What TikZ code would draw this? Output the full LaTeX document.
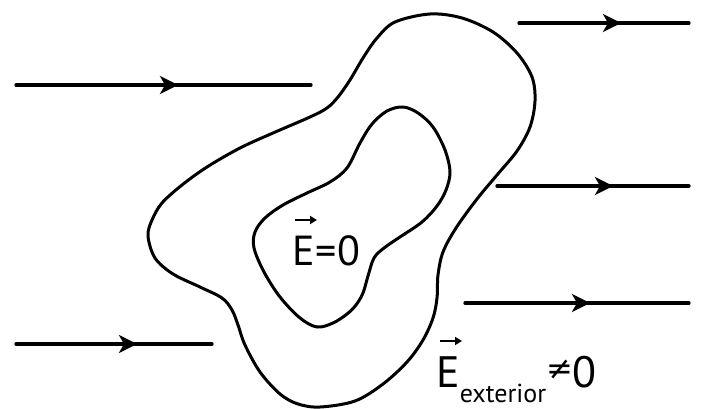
\documentclass[tikz,border=0pt]{standalone}
\usepackage{fontspec}
\setmainfont{PT Sans}
\newfontfamily\symfnt{DejaVu Sans}
\usetikzlibrary{arrows.meta,calc}
\tikzset{
  fieldline/.style={line width=3.3pt, line cap=round},
  fieldhead/.style={line width=3.3pt, -{Stealth[length=18pt,width=18pt,inset=5pt]}},
  surface/.style={line width=3pt, line join=round},
  veclbl/.style={inner sep=0pt, font=\fontsize{42}{42}\selectfont},
  vecbar/.style={line width=2pt, -{Triangle[length=7pt,width=8pt]}},
}
\begin{document}
\begin{tikzpicture}[x=1pt,y=-1pt]
\useasboundingbox (0,0) rectangle (701,409);
% outer surface
\draw[surface] plot[smooth cycle, tension=0.55] coordinates {
 (430,14) (462,18) (493,32) (517,53) (532,77) (535,101) (530,127) (517,151)
 (497,175) (477,199) (456,228) (443,252) (438,275) (437,298) (433,318) (423,340)
 (407,362) (383,384) (355,401) (320,407) (298,404) (280,394) (260,372) (245,345)
 (238,325) (232,310) (222,298) (200,287) (173,274) (155,258) (148,236) (152,220)
 (162,203) (182,185) (207,167) (240,148) (273,133) (310,117) (327,108) (338,97)
 (350,80) (363,58) (377,38) (395,22)};
% inner cavity
\draw[surface] plot[smooth cycle, tension=0.55] coordinates {
 (403,107) (418,113) (433,127) (445,150) (450,172) (446,190) (437,206) (422,222)
 (400,237) (384,248) (374,258) (368,276) (363,293) (356,305) (347,314) (333,323)
 (317,327) (300,318) (280,297) (264,272) (254,248) (255,232) (265,218) (283,205)
 (307,193) (330,182) (347,168) (360,143) (372,124) (387,111)};
% field lines
\coordinate (a1s) at (16,85);  \coordinate (a1t) at (178,85);  \coordinate (a1e) at (311,85);
\coordinate (a2s) at (519,23); \coordinate (a2t) at (621,23);  \coordinate (a2e) at (689,23);
\coordinate (a3s) at (497,186);\coordinate (a3t) at (613,186); \coordinate (a3e) at (689,186);
\coordinate (a4s) at (465,303);\coordinate (a4t) at (590,303); \coordinate (a4e) at (689,303);
\coordinate (a5s) at (16,344); \coordinate (a5t) at (137,344); \coordinate (a5e) at (212,344);
\foreach \i in {1,...,5}{
  \draw[fieldline] (a\i s) -- (a\i e);
  \draw[fieldhead] (a\i s) -- (a\i t);
}
% labels
\node[veclbl, anchor=base west] (ein) at (292,265) {E{\kern1pt}={\kern1pt}0};
\draw[vecbar] ($(ein.base west)+(3,-45)$) -- ++(22,0);
\node[veclbl, anchor=base west, font=\fontsize{44}{44}\selectfont] (eout) at (436,387)
  {E\raisebox{-15pt}{\fontsize{26}{26}\selectfont exterior}\raisebox{8pt}{\symfnt\fontsize{32}{32}\selectfont ≠}0};
\draw[vecbar] ($(eout.base west)+(4,-46)$) -- ++(22,0);
\end{tikzpicture}
\end{document}
